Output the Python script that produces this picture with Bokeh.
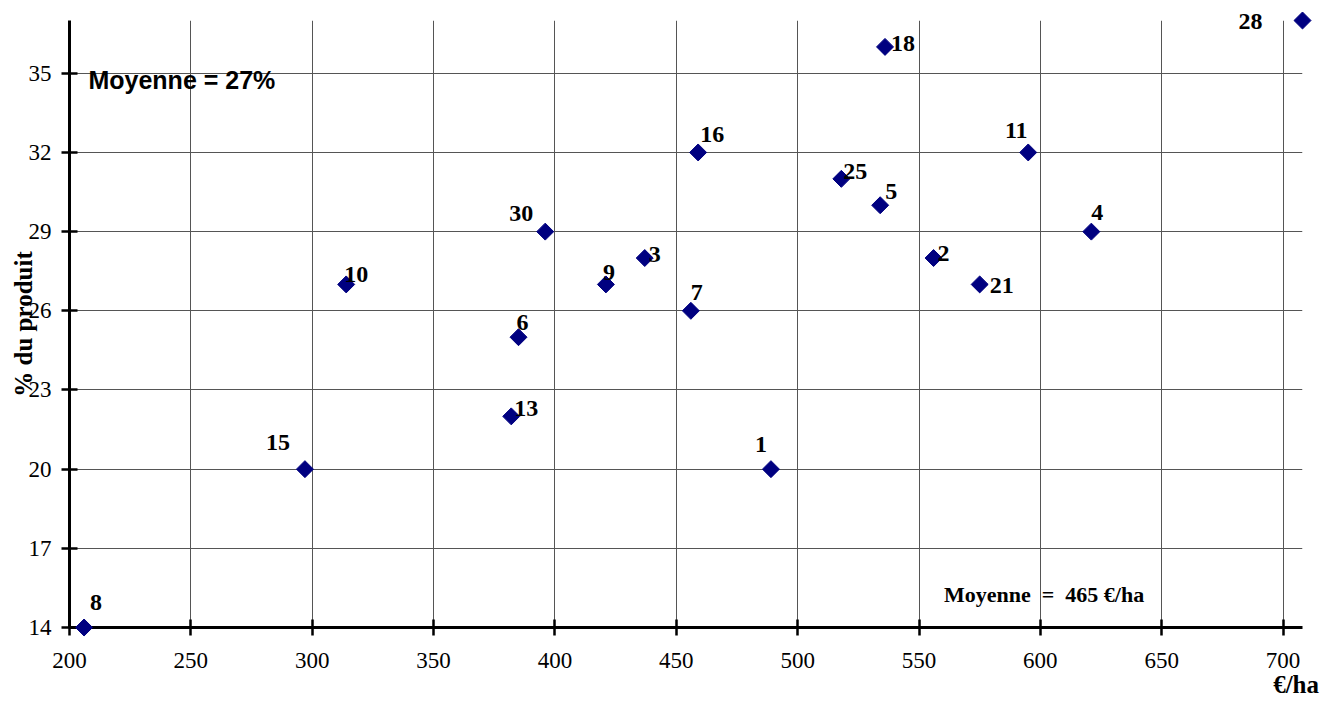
import numpy as np
from bokeh.plotting import figure
from bokeh.models import ColumnDataSource, FixedTicker, Range1d
from bokeh.core.properties import value
from bokeh.embed import file_html
from bokeh.resources import INLINE

# ---- data ----
ids = ["8", "15", "10", "6", "13", "30", "9", "3", "7", "16", "1", "25", "5", "18", "2", "21", "11", "4", "28"]
eur_ha = [206, 297, 314, 385, 382, 396, 421, 437, 456, 459, 489, 518, 534, 536, 556, 575, 595, 621, 708]
pct_produit = [14, 20, 27, 25, 22, 29, 27, 28, 26, 32, 20, 31, 30, 36, 28, 27, 32, 29, 37]
x_ticks = [200, 250, 300, 350, 400, 450, 500, 550, 600, 650, 700]
y_ticks = [14, 17, 20, 23, 26, 29, 32, 35]

# label offsets (screen px: right, up)
dx = [12, -27, 10, 4, 15, -24, 3, 10, 6, 14, -10, 14, 11, 18, 10, 22, -12, 6, -52]
dy = [25, 27, 10, 15, 8, 18, 12, 4, 18, 18, 25, 7, 14, 3, 5, -1, 22, 19, -1]

src = ColumnDataSource(dict(x=eur_ha, y=pct_produit, t=ids, dx=dx, sy=[-d for d in dy]))

p = figure(width=1321, height=700, output_backend="svg", toolbar_location=None,
           x_range=Range1d(200, 708), y_range=Range1d(14, 37),
           min_border_left=69, min_border_top=20, min_border_bottom=73, min_border_right=19)
p.outline_line_color = None
p.background_fill_color = "white"

serif = "Liberation Serif"
for ax in (p.xaxis, p.yaxis):
    ax.axis_line_width = 3
    ax.axis_line_color = "black"
    ax.major_tick_line_width = 2.5
    ax.major_tick_line_color = "black"
    ax.major_tick_in = 8
    ax.major_tick_out = 8
    ax.minor_tick_line_color = None
    ax.major_label_text_font = serif
    ax.major_label_text_font_size = "23px"
    ax.major_label_text_color = "black"
p.xaxis.ticker = FixedTicker(ticks=x_ticks)
p.yaxis.ticker = FixedTicker(ticks=y_ticks)
p.xaxis.major_label_standoff = 17
p.yaxis.major_label_standoff = 10

p.yaxis.axis_label = "% du produit"
p.yaxis.axis_label_text_font = serif
p.yaxis.axis_label_text_font_style = "bold"
p.yaxis.axis_label_text_font_size = "25px"
p.yaxis.axis_label_text_color = "black"
p.yaxis.axis_label_standoff = -11

p.xgrid.ticker = FixedTicker(ticks=x_ticks)
p.ygrid.ticker = FixedTicker(ticks=y_ticks)
for g in (p.xgrid, p.ygrid):
    g.grid_line_color = "#555555"
    g.grid_line_width = 1

p.scatter("x", "y", source=src, marker="square", angle=np.pi / 4, size=12,
          fill_color="#000080", line_color="#000080", level="overlay")

p.text("x", "y", text="t", source=src, x_offset="dx", y_offset="sy",
       text_font=value(serif), text_font_style="bold", text_font_size="24px",
       text_align="center", text_baseline="middle", text_color="black",
       level="overlay")

p.text([207.8], [34.73], text=["Moyenne = 27%"], text_font=value("Liberation Sans"),
       text_font_style="bold", text_font_size="25px", text_baseline="alphabetic",
       text_align="left", text_color="black", level="overlay")
p.text([560.3], [15.25], text=["Moyenne\u00a0 =\u00a0 465 €/ha"], text_font=value(serif),
       text_font_style="bold", text_font_size="22px", text_baseline="alphabetic",
       text_align="left", text_color="black", level="overlay")
p.text([714.8], [11.85], text=["€/ha"], text_font=value(serif),
       text_font_style="bold", text_font_size="25px", text_baseline="alphabetic",
       text_align="right", text_color="black", level="overlay")

open("out.html", "w").write(file_html(p, INLINE))
